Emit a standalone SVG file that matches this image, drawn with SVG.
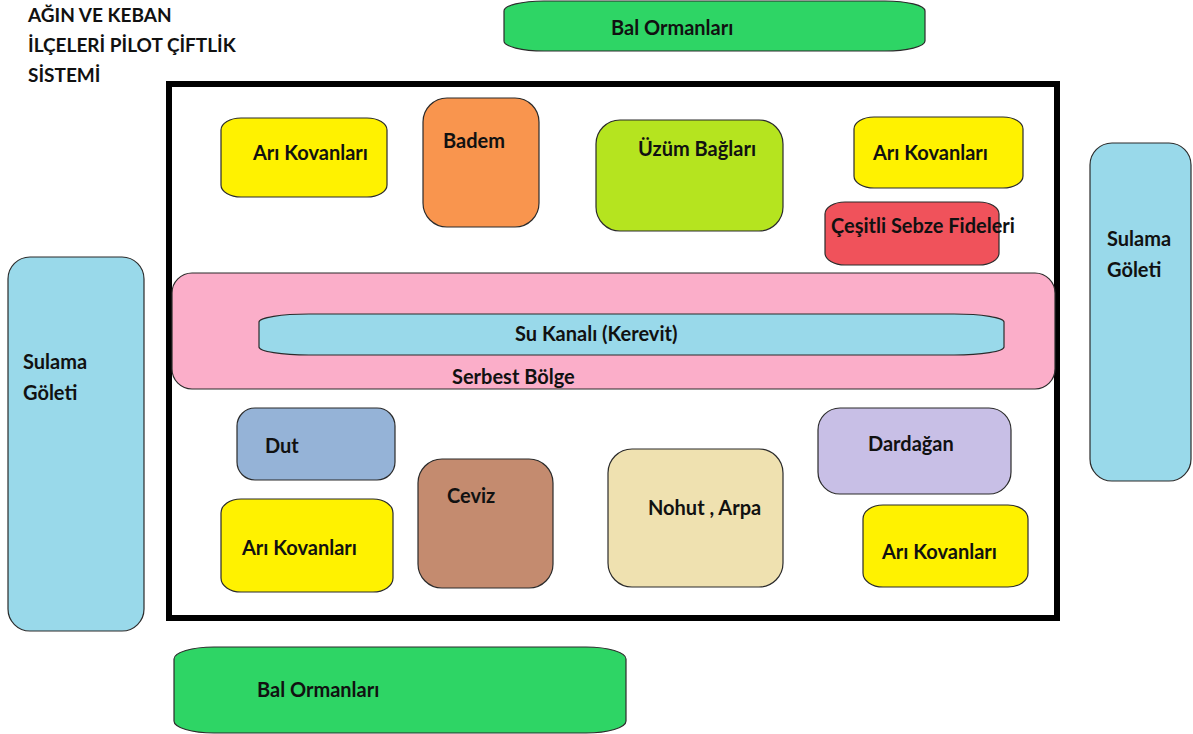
<svg xmlns="http://www.w3.org/2000/svg" width="1193" height="734" viewBox="0 0 1193 734">
<style>
.n{stroke:#2b2b2b;stroke-width:1.2}
.t{font-family:Lato,"Liberation Sans",sans-serif;font-weight:bold;font-size:20px;fill:#111}
.title{font-family:Lato,"Liberation Sans",sans-serif;font-weight:bold;font-size:19px;fill:#111}
</style>
<rect width="1193" height="734" fill="#fff"/>
<g id="title">
<text class="title" x="28" y="22">AĞIN VE KEBAN</text>
<text class="title" x="28" y="52">İLÇELERİ PİLOT ÇİFTLİK</text>
<text class="title" x="28" y="82">SİSTEMİ</text>
</g>
<g id="bal-top"><rect class="n" x="504" y="1" width="421" height="50" rx="40" ry="10" fill="#2ED565"/><text class="t" x="611" y="35">Bal Ormanları</text></g>
<g id="frame"><rect x="169" y="84" width="888" height="534" fill="none" stroke="#000" stroke-width="6"/></g>
<g id="ari1"><rect class="n" x="221" y="118" width="166" height="79" rx="20" ry="12" fill="#FFF200"/><text class="t" x="253" y="160">Arı Kovanları</text></g>
<g id="badem"><rect class="n" x="423" y="98" width="116" height="129" rx="24" fill="#F9954E"/><text class="t" x="443" y="148">Badem</text></g>
<g id="uzum"><rect class="n" x="596" y="120" width="187" height="111" rx="24" fill="#B5E41F"/><text class="t" x="638" y="156">Üzüm Bağları</text></g>
<g id="ari2"><rect class="n" x="854" y="117" width="169" height="71" rx="20" ry="12" fill="#FFF200"/><text class="t" x="873" y="160">Arı Kovanları</text></g>
<g id="sebze"><rect class="n" x="825" y="202" width="174" height="63" rx="20" ry="12" fill="#F0525B"/><text class="t" x="831" y="233">Çeşitli Sebze Fideleri</text></g>
<g id="serbest"><rect class="n" x="172" y="273" width="883" height="116" rx="20" fill="#FBAEC9"/><text class="t" x="452" y="384">Serbest Bölge</text></g>
<g id="kanal"><rect class="n" x="259" y="314" width="745" height="41" rx="50" ry="8" fill="#99D9EA"/><text class="t" x="515" y="341">Su Kanalı (Kerevit)</text></g>
<g id="dut"><rect class="n" x="237" y="408" width="158" height="72" rx="18" fill="#95B3D7"/><text class="t" x="265" y="453">Dut</text></g>
<g id="ari3"><rect class="n" x="221" y="499" width="172" height="93" rx="20" ry="14" fill="#FFF200"/><text class="t" x="242" y="555">Arı Kovanları</text></g>
<g id="ceviz"><rect class="n" x="418" y="459" width="135" height="129" rx="24" fill="#C48B6F"/><text class="t" x="447" y="503">Ceviz</text></g>
<g id="nohut"><rect class="n" x="608" y="449" width="175" height="138" rx="24" fill="#EFE1B0"/><text class="t" x="648" y="515">Nohut , Arpa</text></g>
<g id="dardagan"><rect class="n" x="818" y="408" width="193" height="86" rx="22" fill="#C8BFE6"/><text class="t" x="868" y="451">Dardağan</text></g>
<g id="ari4"><rect class="n" x="863" y="505" width="165" height="82" rx="20" ry="14" fill="#FFF200"/><text class="t" x="882" y="559">Arı Kovanları</text></g>
<g id="sulama-left"><rect class="n" x="8" y="257" width="136" height="374" rx="22" fill="#99D9EA"/><text class="t" x="23" y="369">Sulama</text><text class="t" x="23" y="400">Göleti</text></g>
<g id="sulama-right"><rect class="n" x="1090" y="143" width="101" height="338" rx="22" fill="#99D9EA"/><text class="t" x="1107" y="246">Sulama</text><text class="t" x="1107" y="277">Göleti</text></g>
<g id="bal-bottom"><rect class="n" x="174" y="647" width="452" height="86" rx="40" ry="12" fill="#2ED565"/><text class="t" x="257" y="697">Bal Ormanları</text></g>
<g id="connectors"></g>
</svg>
